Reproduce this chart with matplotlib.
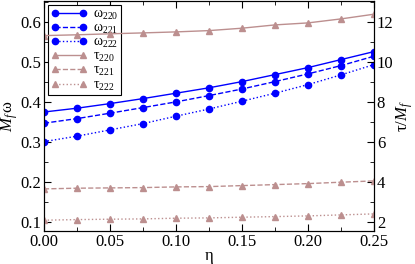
import numpy as np
import matplotlib
matplotlib.use("Agg")
import matplotlib.pyplot as plt
from matplotlib.ticker import MultipleLocator

plt.rcParams['font.family'] = ['Liberation Serif', 'DejaVu Serif']
plt.rcParams['mathtext.fontset'] = 'custom'
plt.rcParams['mathtext.rm'] = 'Liberation Serif'
plt.rcParams['mathtext.it'] = 'Liberation Serif:italic'

# ---- data ----
eta = np.array([0.0, 0.025, 0.05, 0.075, 0.1, 0.125, 0.15, 0.175, 0.2, 0.225, 0.25])

w220 = np.array([0.3755, 0.385, 0.3965, 0.409, 0.4225, 0.436, 0.4515, 0.469, 0.4865, 0.5065, 0.5265])
w221 = np.array([0.3475, 0.359, 0.3725, 0.3865, 0.4008, 0.4165, 0.433, 0.4515, 0.4708, 0.4915, 0.515])
w222 = np.array([0.3015, 0.315, 0.3308, 0.3465, 0.365, 0.383, 0.4025, 0.4225, 0.444, 0.4683, 0.494])

t220 = np.array([11.33, 11.37, 11.42, 11.465, 11.515, 11.58, 11.7, 11.865, 11.965, 12.165, 12.4])
t221 = np.array([3.665, 3.70, 3.715, 3.73, 3.765, 3.78, 3.83, 3.88, 3.93, 4.0, 4.065])
t222 = np.array([2.10, 2.13, 2.15, 2.165, 2.20, 2.215, 2.25, 2.28, 2.315, 2.365, 2.415])

blue = "#0000ff"
rose = "#bc8f8f"

fig = plt.figure(figsize=(4.15, 2.64), dpi=100)
ax = fig.add_axes([44 / 415, 33 / 264, 330 / 415, 230 / 264])
ax2 = ax.twinx()

lw = 1.0
h1, = ax.plot(eta, w220, "-", color=blue, marker="o", ms=4.5, lw=lw, label=r"ω$_{220}$")
h2, = ax.plot(eta, w221, "--", color=blue, marker="o", ms=4.5, lw=lw, label=r"ω$_{221}$")
h3, = ax.plot(eta, w222, ":", color=blue, marker="o", ms=4.5, lw=lw, label=r"ω$_{222}$")

h4, = ax2.plot(eta, t220, "-", color=rose, marker="^", ms=4, lw=lw, label=r"τ$_{220}$")
h5, = ax2.plot(eta, t221, "--", color=rose, marker="^", ms=4, lw=lw, label=r"τ$_{221}$")
h6, = ax2.plot(eta, t222, ":", color=rose, marker="^", ms=4, lw=lw, label=r"τ$_{222}$")

ax.set_xlim(0, 0.25)
ax.set_ylim(0.078, 0.653)
ax2.set_ylim(1.56, 13.06)

ax.xaxis.set_major_locator(MultipleLocator(0.05))
ax.xaxis.set_minor_locator(MultipleLocator(0.025))
ax.yaxis.set_major_locator(MultipleLocator(0.1))
ax.yaxis.set_minor_locator(MultipleLocator(0.05))
ax2.yaxis.set_major_locator(MultipleLocator(2))
ax2.yaxis.set_minor_locator(MultipleLocator(1))
ax.xaxis.set_major_formatter(plt.FormatStrFormatter("%.2f"))
ax.yaxis.set_major_formatter(plt.FormatStrFormatter("%.1f"))

ax.tick_params(which="both", direction="in", top=True, labelsize=12, pad=2)
ax.tick_params(which="major", length=5)
ax.tick_params(which="minor", length=3)
ax.tick_params(axis="y", right=False)
ax2.tick_params(which="both", direction="in", labelsize=12, pad=2)
ax2.tick_params(which="major", length=5)
ax2.tick_params(which="minor", length=3)

ax.set_xlabel("η", fontsize=12, labelpad=-1)
ax.set_ylabel(r"$M_f\,$ω", fontsize=12, labelpad=0)
ax2.set_ylabel(r"τ/$M_f$", fontsize=12, labelpad=1)

leg = ax.legend(handles=[h1, h2, h3, h4, h5, h6], loc="upper left", fontsize=10,
                numpoints=2, handlelength=2.6, handletextpad=0.4, labelspacing=0.0,
                borderpad=0.2, borderaxespad=0.3, fancybox=False, framealpha=1,
                edgecolor="black")
leg.get_frame().set_linewidth(0.8)

fig.savefig("out.png", dpi=100)
